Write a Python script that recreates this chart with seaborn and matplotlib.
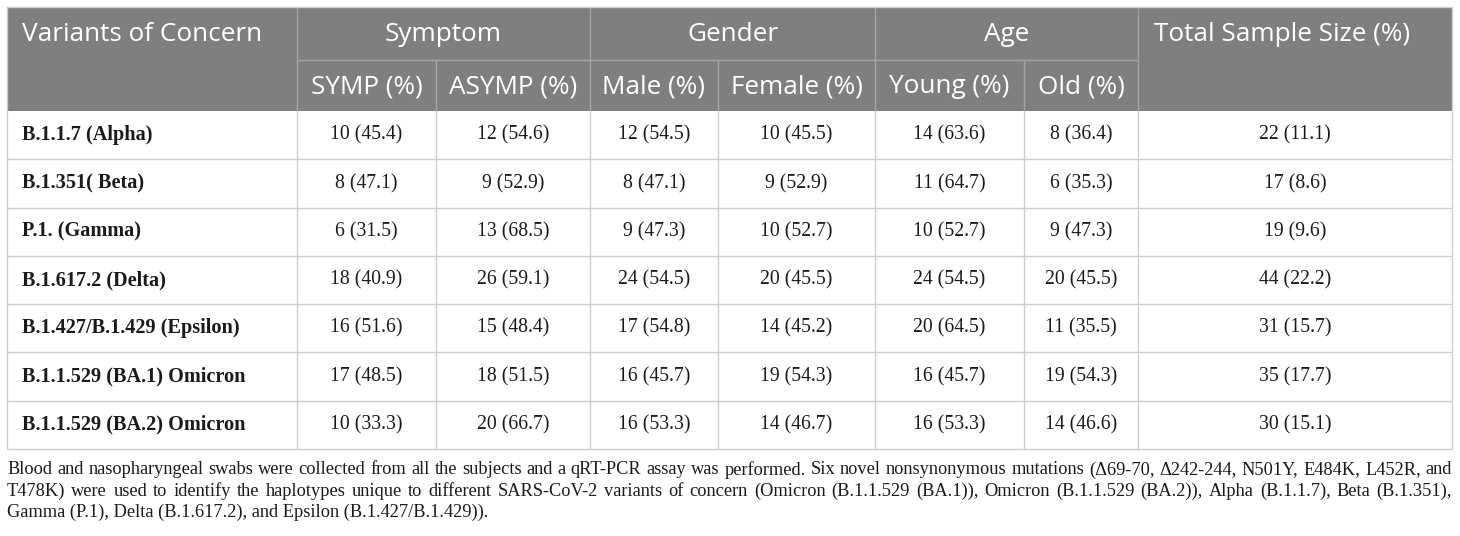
import matplotlib.pyplot as plt
import seaborn as sns
from matplotlib.patches import Rectangle

# table data
variants = ["B.1.1.7 (Alpha)", "B.1.351( Beta)", "P.1. (Gamma)", "B.1.617.2 (Delta)",
            "B.1.427/B.1.429 (Epsilon)", "B.1.1.529 (BA.1) Omicron", "B.1.1.529 (BA.2) Omicron"]
symp_n = [10, 8, 6, 18, 16, 17, 10]
symp_pct = [45.4, 47.1, 31.5, 40.9, 51.6, 48.5, 33.3]
asymp_n = [12, 9, 13, 26, 15, 18, 20]
asymp_pct = [54.6, 52.9, 68.5, 59.1, 48.4, 51.5, 66.7]
male_n = [12, 8, 9, 24, 17, 16, 16]
male_pct = [54.5, 47.1, 47.3, 54.5, 54.8, 45.7, 53.3]
female_n = [10, 9, 10, 20, 14, 19, 14]
female_pct = [45.5, 52.9, 52.7, 45.5, 45.2, 54.3, 46.7]
young_n = [14, 11, 10, 24, 20, 16, 16]
young_pct = [63.6, 64.7, 52.7, 54.5, 64.5, 45.7, 53.3]
old_n = [8, 6, 9, 20, 11, 19, 14]
old_pct = [36.4, 35.3, 47.3, 45.5, 35.5, 54.3, 46.6]
total_n = [22, 17, 19, 44, 31, 35, 30]
total_pct = [11.1, 8.6, 9.6, 22.2, 15.7, 17.7, 15.1]

groups = ["Symptom", "Gender", "Age"]
sub_headers = ["SYMP (%)", "ASYMP (%)", "Male (%)", "Female (%)", "Young (%)", "Old (%)"]
caption = [
    "Blood and nasopharyngeal swabs were collected from all the subjects and a qRT-PCR assay was performed. "
    "Six novel nonsynonymous mutations (\u039469-70, \u0394242-244, N501Y, E484K, L452R, and",
    "T478K) were used to identify the haplotypes unique to different SARS-CoV-2 variants of concern "
    "(Omicron (B.1.1.529 (BA.1)), Omicron (B.1.1.529 (BA.2)), Alpha (B.1.1.7), Beta (B.1.351),",
    "Gamma (P.1), Delta (B.1.617.2), and Epsilon (B.1.427/B.1.429)).",
]

sns.set_theme(style="white")
serif = ["Liberation Serif", "DejaVu Serif"]
sans = ["Open Sans", "DejaVu Sans"]
plt.rcParams["font.family"] = serif

W, H = 1460, 536
fig = plt.figure(figsize=(W / 100, H / 100), dpi=100)
ax = fig.add_axes([0, 0, 1, 1])
ax.set_xlim(0, W)
ax.set_ylim(H, 0)
ax.axis("off")

col_x = [7, 297, 436, 590, 718, 875, 1024, 1138, 1452]
top, mid, head_bot, bottom = 7, 60, 111, 449
row_h = (bottom - head_bot) / len(variants)

head_bg = "#7f7f7f"
head_line = "#a3a3a3"
body_line = "#cccccc"
head_fs = 18.8
name_fs = 14.6
body_fs = 14.2

# header block
ax.add_patch(Rectangle((col_x[0], top), col_x[-1] - col_x[0], head_bot - top,
                       facecolor=head_bg, edgecolor="none"))
ax.hlines(mid, col_x[1], col_x[7], color=head_line, lw=1)
for x in [col_x[1], col_x[3], col_x[5], col_x[7]]:
    ax.vlines(x, top, head_bot, color=head_line, lw=1)
for x in [col_x[2], col_x[4], col_x[6]]:
    ax.vlines(x, mid, head_bot, color=head_line, lw=1)
ax.hlines(top, col_x[0], col_x[-1], color=body_line, lw=1)

ax.text(22, (top + mid) / 2 + 1, "Variants of Concern", family=sans, fontsize=head_fs,
        color="white", ha="left", va="center")
ax.text(1154, (top + mid) / 2 + 1, "Total Sample Size (%)", family=sans, fontsize=head_fs,
        color="white", ha="left", va="center")
for i, g in enumerate(groups):
    xc = (col_x[1 + 2 * i] + col_x[3 + 2 * i]) / 2
    ax.text(xc, (top + mid) / 2 + 1, g, family=sans, fontsize=head_fs, color="white",
            ha="center", va="center")
for i, s in enumerate(sub_headers):
    xc = (col_x[1 + i] + col_x[2 + i]) / 2
    ax.text(xc, (mid + head_bot) / 2 + 1, s, family=sans, fontsize=head_fs, color="white",
            ha="center", va="center")

# body
columns = [(symp_n, symp_pct), (asymp_n, asymp_pct), (male_n, male_pct),
           (female_n, female_pct), (young_n, young_pct), (old_n, old_pct),
           (total_n, total_pct)]
for r, name in enumerate(variants):
    yc = head_bot + (r + 0.5) * row_h
    ax.text(22, yc, name, fontsize=name_fs, fontweight="bold", color="#1a1a1a",
            ha="left", va="center")
    for c, (ns, ps) in enumerate(columns):
        xc = (col_x[1 + c] + col_x[2 + c]) / 2
        ax.text(xc, yc, f"{ns[r]} ({ps[r]:.1f})", fontsize=body_fs, color="#1a1a1a",
                ha="center", va="center")
    ax.hlines(head_bot + (r + 1) * row_h, col_x[0], col_x[-1], color=body_line, lw=1)
for x in col_x:
    ax.vlines(x, head_bot, bottom, color=body_line, lw=1)
ax.vlines([col_x[0], col_x[-1]], top, head_bot, color=body_line, lw=1)

# caption, justified to table width
cap_fs = 13.2
renderer = fig.canvas.get_renderer()
for i, line in enumerate(caption):
    y = 470 + i * 21
    if i == len(caption) - 1:
        ax.text(col_x[0], y, line, fontsize=cap_fs, color="#1a1a1a", ha="left", va="center")
        continue
    words = line.split(" ")
    texts = [ax.text(0, y, w, fontsize=cap_fs, color="#1a1a1a", ha="left", va="center")
             for w in words]
    widths = [t.get_window_extent(renderer).width for t in texts]
    gap = (col_x[-1] - col_x[0] - sum(widths)) / (len(words) - 1)
    x = col_x[0]
    for t, w in zip(texts, widths):
        t.set_x(x)
        x += w + gap

fig.savefig("out.png", dpi=100, facecolor="white")
